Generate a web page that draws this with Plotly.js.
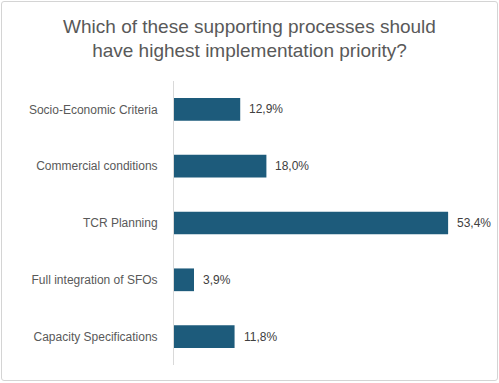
<!DOCTYPE html>
<html><head><meta charset="utf-8">
<script src="https://cdn.plot.ly/plotly-3.0.1.min.js"></script>
<style>
html,body{margin:0;padding:0;background:#fff;}
#wrap{position:relative;width:499px;height:383px;}
#chart{width:499px;height:383px;}
#frame{position:absolute;left:1px;top:1px;width:495px;height:378px;border:1px solid #d4d4d4;border-radius:3px;pointer-events:none;}
</style></head>
<body>
<div id="wrap"><div id="chart"></div><div id="frame"></div></div>
<script>
const categories = ["Socio-Economic Criteria","Commercial conditions","TCR Planning","Full integration of SFOs","Capacity Specifications"];
const values = [12.9, 18.0, 53.4, 3.9, 11.8];
const barColor = "#1d5b7b";
const fontFam = "Liberation Sans, Arial, sans-serif";

const labelAnnotations = values.map((v, i) => ({
  x: v, y: categories[i], xref: "x", yref: "y",
  text: v.toFixed(1).replace(".", ",") + "%",
  showarrow: false, xanchor: "left", yanchor: "middle", xshift: 7,
  font: {family: fontFam, size: 12, color: "#404040"}
}));

Plotly.newPlot("chart", [{
  type: "bar",
  orientation: "h",
  y: categories,
  x: values,
  marker: {color: barColor},
  width: 0.4,
  hoverinfo: "none"
}], {
  width: 499, height: 383,
  separators: ",.",
  margin: {l: 174, r: 17, t: 81, b: 18},
  paper_bgcolor: "rgba(0,0,0,0)",
  plot_bgcolor: "rgba(0,0,0,0)",
  title: {
    text: "Which of these supporting processes should<br>have highest implementation priority?",
    font: {family: fontFam, size: 19, color: "#595959"},
    x: 0.5, xanchor: "center", xref: "container",
    y: 0.915, yanchor: "middle", yref: "container"
  },
  annotations: labelAnnotations,
  xaxis: {range: [0, 60], visible: false, fixedrange: true},
  yaxis: {
    autorange: "reversed",
    showline: true, linecolor: "#d9d9d9", linewidth: 1,
    showgrid: false, zeroline: false,
    ticks: "", ticklabelstandoff: 13,
    tickfont: {family: fontFam, size: 12, color: "#595959"}
  },
  showlegend: false
}, {displayModeBar: false, staticPlot: true});
</script>
</body></html>
